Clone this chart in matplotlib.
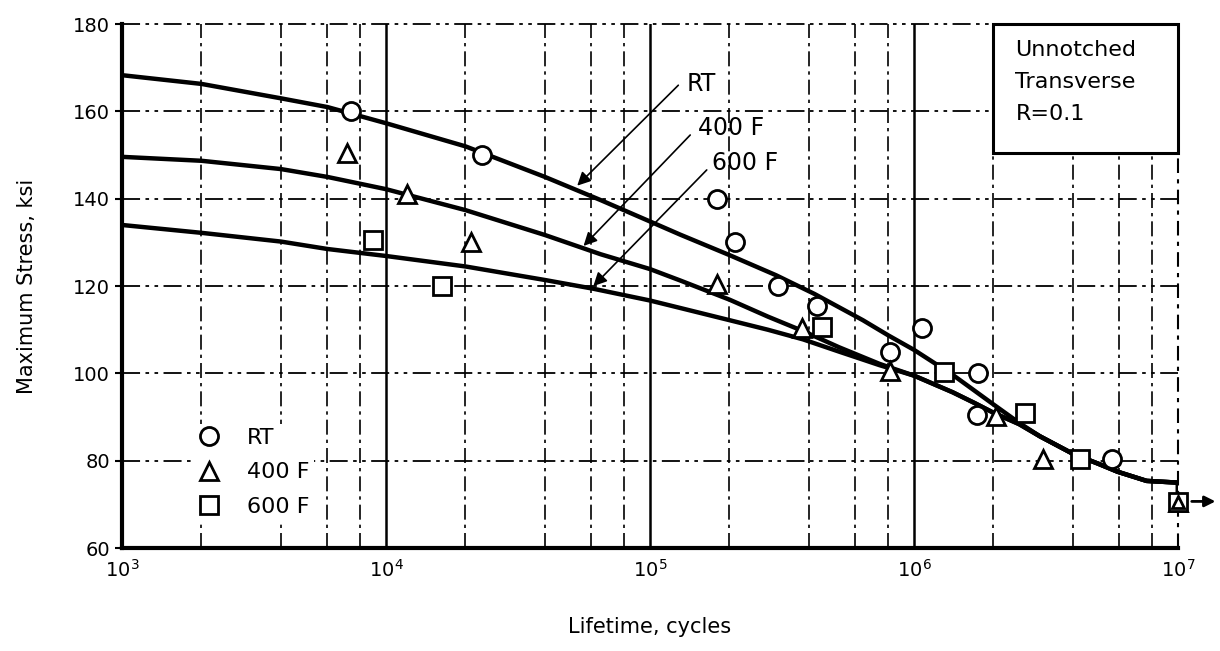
import matplotlib as mpl
mpl.use('Agg')
import matplotlib.pyplot as plt
from matplotlib.patches import Rectangle
import numpy as np

# fitted S-N curves (cycles, ksi)
rt_curve_n = [1e3, 2e3, 4e3, 6e3, 1e4, 2e4, 4e4, 6.5e4, 1e5, 1.3e5, 2e5, 3e5, 4.2e5,
              6.4e5, 8e5, 1e6, 1.4e6, 1.7e6, 2e6, 2.5e6, 3e6, 4e6, 5e6, 5.9e6, 7.6e6, 1e7, 1e7]
rt_curve_s = [168.3, 166.3, 163, 161, 157.3, 152, 145, 139.7, 134.8, 131.8, 127.1, 122.5, 118.2,
              112.2, 108.7, 105.4, 99.7, 96.0, 92.9, 88.7, 85.6, 81.6, 79.3, 77.5, 75.4, 75, 72]

f400_curve_n = [1e3, 2e3, 4e3, 6e3, 1e4, 2e4, 4e4, 6.5e4, 1e5, 1.3e5, 2e5, 2.8e5, 3.8e5, 5.2e5,
                7.4e5, 1e6, 1.4e6, 1.7e6, 2e6, 2.5e6, 3e6, 4e6, 5e6, 5.9e6, 7.6e6, 1e7, 1e7]
f400_curve_s = [149.6, 148.7, 146.8, 145, 142.2, 137.4, 131.7, 127.3, 123.9, 121.3, 116.9, 113.0, 109.7, 106.0,
                102.2, 99.5, 95.7, 93.2, 91.0, 88.4, 85.6, 81.6, 79.3, 77.5, 75.4, 75, 72]

f600_curve_n = [1e3, 2e3, 4e3, 6e3, 1e4, 2e4, 4e4, 6.1e4, 1e5, 1.3e5, 2e5, 2.8e5, 3.8e5, 5.2e5,
                7.4e5, 1e6, 1.4e6, 1.7e6, 2e6, 2.5e6, 3e6, 4e6, 5e6, 5.9e6, 7.6e6, 1e7, 1e7]
f600_curve_s = [134, 132.2, 130.2, 128.5, 126.9, 124.5, 121.4, 119.4, 116.7, 115.0, 112.2, 110.0, 107.8, 105.0,
                101.9, 99.5, 95.7, 93.2, 91.0, 88.4, 85.6, 81.6, 79.3, 77.5, 75.4, 75, 72]

# test points
rt_n = [7.4e3, 2.3e4, 1.8e5, 2.1e5, 3.05e5, 4.3e5, 8.1e5, 1.07e6, 1.75e6, 1.73e6, 5.6e6]
rt_s = [160, 150, 140, 130, 120, 115.5, 105, 110.5, 100, 90.5, 80.5]

f400_n = [7.1e3, 1.2e4, 2.1e4, 1.8e5, 3.75e5, 8.1e5, 2.05e6, 3.07e6, 1e7]
f400_s = [150.5, 141, 130, 120.5, 110.3, 100.5, 90.3, 80.5, 70.5]

f600_n = [8.9e3, 1.63e4, 4.5e5, 1.3e6, 2.63e6, 4.27e6, 1e7]
f600_s = [130.5, 120, 110.7, 100.4, 91, 80.5, 70.5]

labels = ['RT', '400 F', '600 F']
y_ticks = [60, 80, 100, 120, 140, 160, 180]

plt.rcParams['font.family'] = 'DejaVu Sans'

fig = plt.figure(figsize=(12.2, 6.51), dpi=100)
ax = fig.add_axes([0.1, 0.158, 0.8656, 0.805])
ax.set_xscale('log')
ax.set_xlim(1e3, 1e7)
ax.set_ylim(60, 180)

# grid: solid decades, dash-dot at 2,4,6,8 and every 20 ksi
for dec in [1e3, 1e4, 1e5, 1e6]:
    for m in [2, 4, 6, 8]:
        ax.axvline(dec * m, color='k', lw=1.2, ls=(0, (9, 3, 2, 3)), zorder=1)
for dec in [1e4, 1e5, 1e6]:
    ax.axvline(dec, color='k', lw=1.8, zorder=1)
ax.axvline(1e7, color='k', lw=1.5, ls=(0, (7, 3, 2, 3)), zorder=1, clip_on=False)
for yv in y_ticks[1:]:
    ax.axhline(yv, color='k', lw=1.3, ls=(0, (10, 3, 2, 3, 2, 3)), zorder=1, clip_on=False)

for sp in ['top', 'right']:
    ax.spines[sp].set_visible(False)
for sp in ['left', 'bottom']:
    ax.spines[sp].set_linewidth(3)

ax.set_yticks(y_ticks)
ax.set_xticks([1e3, 1e4, 1e5, 1e6, 1e7])
ax.xaxis.set_minor_locator(mpl.ticker.NullLocator())
ax.tick_params(axis='both', labelsize=14, width=1.5, length=5, direction='out')
ax.tick_params(axis='x', length=0, pad=8)

for cn, cs in [(rt_curve_n, rt_curve_s), (f400_curve_n, f400_curve_s),
               (f600_curve_n, f600_curve_s)]:
    ax.plot(cn, cs, color='k', lw=3.2, zorder=3, solid_capstyle='butt',
            solid_joinstyle='round')

mk = dict(ls='none', mfc='white', mec='k', mew=2, ms=13, zorder=5, clip_on=False)
ax.plot(rt_n, rt_s, marker='o', label=labels[0], **mk)
ax.plot(f400_n, f400_s, marker='^', label=labels[1], **mk)
ax.plot(f600_n, f600_s, marker='s', label=labels[2], **mk)
# triangle inside the square at the runout point
ax.plot(f400_n[-1], f400_s[-1], marker='^', ls='none', mfc='white', mec='k',
        mew=2, ms=8, zorder=6, clip_on=False)

# runout arrow
ax.annotate('', xy=(1.42e7, 70.7), xytext=(1.1e7, 70.7), annotation_clip=False,
            arrowprops=dict(arrowstyle='-|>', color='k', lw=2, mutation_scale=16))

# curve labels with leaders
ax.text(1.38e5, 166.3, 'RT', fontsize=17, va='center', ha='left')
ax.text(1.52e5, 156.2, '400 F', fontsize=17, va='center', ha='left')
ax.text(1.72e5, 148.2, '600 F', fontsize=17, va='center', ha='left')
arrow_kw = dict(arrowstyle='-|>', color='k', lw=1.2, mutation_scale=20,
                shrinkA=0, shrinkB=0)
ax.annotate('', xy=(5.3e4, 143.0), xytext=(1.28e5, 166), arrowprops=arrow_kw, zorder=4)
ax.annotate('', xy=(5.6e4, 129.2), xytext=(1.42e5, 154.6), arrowprops=arrow_kw, zorder=4)
ax.annotate('', xy=(6.1e4, 120), xytext=(1.64e5, 146.6), arrowprops=arrow_kw, zorder=4)

# condition box
box = Rectangle((0.825, 0.754), 0.175, 0.246, transform=ax.transAxes,
                facecolor='white', edgecolor='k', lw=2.2, zorder=6, clip_on=False)
ax.add_patch(box)
ax.text(0.846, 0.97, 'Unnotched\nTransverse\nR=0.1', transform=ax.transAxes,
        fontsize=16, va='top', ha='left', linespacing=1.75, zorder=7)

leg = ax.legend(loc='lower left', bbox_to_anchor=(0.055, 0.03), fontsize=16,
                frameon=True, fancybox=False, handletextpad=1.1, labelspacing=0.65,
                borderpad=0.2, handlelength=1.2)
leg.get_frame().set_edgecolor('none')
leg.get_frame().set_facecolor('white')
leg.get_frame().set_alpha(1)
leg.set_zorder(8)

ax.set_ylabel('Maximum Stress, ksi', fontsize=15, labelpad=26)
ax.set_xlabel('Lifetime, cycles', fontsize=15, labelpad=26)

fig.savefig('out.png', dpi=100)
